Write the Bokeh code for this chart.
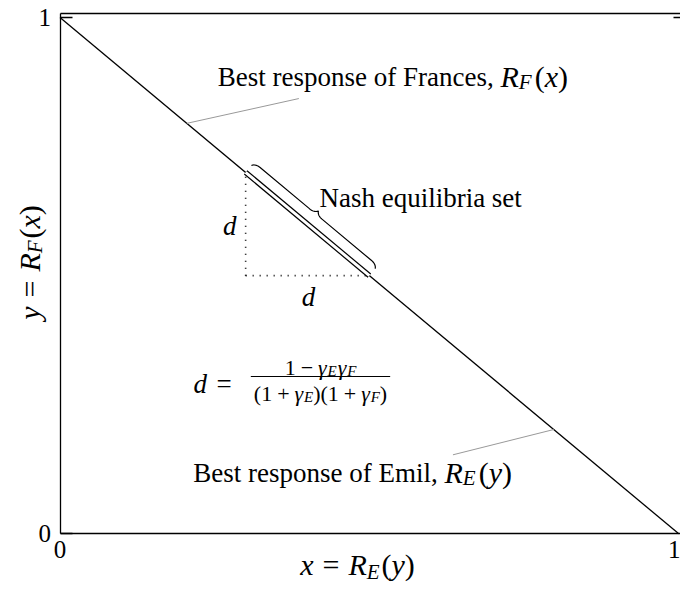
import numpy as np
from bokeh.plotting import figure
from bokeh.models import Label, LinearAxis, FixedTicker, Range1d
from bokeh.embed import file_html
from bokeh.resources import INLINE

# ---------------- data ----------------
best_resp_x = [0.0, 1.0]          # R_F(x) and R_E(y) coincide on this line
best_resp_y = [1.0, 0.0]
nash_x = [0.3, 0.5]               # Nash equilibria set (segment of the line)
nash_y = [0.7, 0.5]
d_corner_x = [0.3]
d_corner_y = [0.5]
d_value = [0.2]
tick_vals = [0, 1]
frances_leader_x = [0.205, 0.386]
frances_leader_y = [0.795, 0.843]
emil_leader_x = [0.798, 0.635]
emil_leader_y = [0.202, 0.153]

# ---------------- layout ----------------
FIG_W, FIG_H = 680, 589
PAGE = 0
X0_PAGE, X1_PAGE = 59.5, 678.3   # page pixel of x=0 / x=1
Y1_PAGE, Y0_PAGE = 17.0, 533.3   # page pixel of y=1 / y=0
SX = X1_PAGE - X0_PAGE
SY = Y0_PAGE - Y1_PAGE
XS = (PAGE - X0_PAGE) / SX
XE = (PAGE + FIG_W - X0_PAGE) / SX
YT = (Y0_PAGE - PAGE) / SY
YS = (Y0_PAGE - (PAGE + FIG_H)) / SY
TOP_BORDER = 1 + 4.5 / SY

def px2x(px):
    return (np.asarray(px, dtype=float) - X0_PAGE) / SX

def px2y(py):
    return (Y0_PAGE - np.asarray(py, dtype=float)) / SY

def x2px(x):
    return X0_PAGE + np.asarray(x, dtype=float) * SX

def y2px(y):
    return Y0_PAGE - np.asarray(y, dtype=float) * SY

FONT = "Liberation Serif"
TXT = 27
MATH = 30
SUB = 21

p = figure(width=FIG_W, height=FIG_H, x_range=Range1d(XS, XE), y_range=Range1d(YS, YT),
           output_backend="svg", toolbar_location=None,
           x_axis_location=None, y_axis_location=None,
           min_border_left=0, min_border_right=0, min_border_top=0, min_border_bottom=0)
p.outline_line_color = None
p.background_fill_color = "white"
p.border_fill_color = "white"
p.grid.visible = False

def mk_axis(ticks, tin, loc, bounds, show_labels=True, line=True, standoff=8):
    ax = LinearAxis(ticker=FixedTicker(ticks=ticks, minor_ticks=[]),
                    fixed_location=loc, bounds=bounds,
                    major_tick_in=tin, major_tick_out=0,
                    major_tick_line_width=1.3, axis_line_width=1.3,
                    minor_tick_line_color=None,
                    major_label_standoff=standoff,
                    major_label_text_font=FONT,
                    major_label_text_font_size="25px" if show_labels else "0px",
                    major_label_text_color="black" if show_labels else None)
    if not line:
        ax.axis_line_color = None
    return ax

p.add_layout(mk_axis(tick_vals, 12, 0, (0, TOP_BORDER), standoff=9), "left")
p.add_layout(mk_axis(tick_vals, 0, 0, (0, XE), standoff=7), "below")
p.add_layout(mk_axis([], 0, TOP_BORDER, (0, XE), show_labels=False, standoff=0), "above")
p.add_layout(mk_axis([tick_vals[1]], 7, XE, (0, TOP_BORDER), show_labels=False, line=False, standoff=0), "right")

# main line
p.line(best_resp_x, best_resp_y, line_color="black", line_width=1.3)

# dotted triangle
cx, cy, d = d_corner_x[0], d_corner_y[0], d_value[0]
p.line([cx, cx], [cy, cy + d], line_color="black", line_width=1.6, line_dash="1 6")
p.line([cx, cx + d], [cy, cy], line_color="black", line_width=1.6, line_dash="1 6")

# Nash set: double line
p.line(nash_x, nash_y, line_color="black", line_width=5.4, line_cap="butt")
p.line(nash_x, nash_y, line_color="white", line_width=3.0, line_cap="butt")

# leader lines
p.line(frances_leader_x, frances_leader_y, line_color="#999999", line_width=1)
p.line(emil_leader_x, emil_leader_y, line_color="#999999", line_width=1)

# brace along the Nash set
def cubic(P0, P1, P2, P3, n=14):
    t = np.linspace(0, 1, n)[:, None]
    P0, P1, P2, P3 = map(np.array, (P0, P1, P2, P3))
    return (1 - t) ** 3 * P0 + 3 * (1 - t) ** 2 * t * P1 + 3 * (1 - t) * t ** 2 * P2 + t ** 3 * P3

x0s, y0s = float(x2px(nash_x[0])), float(y2px(nash_y[0]))
x1s, y1s = float(x2px(nash_x[1])), float(y2px(nash_y[1]))
L = np.hypot(x1s - x0s, y1s - y0s)
u = np.array([(x1s - x0s) / L, (y1s - y0s) / L])
nv = np.array([u[1], -u[0]])
a, rz = 8.0, 9.0
m = L / 2
pts = np.vstack([
    cubic((0, 0), (.15 * a, .3 * a), (.5 * a, .5 * a), (a, .5 * a)),
    cubic((m - a, .5 * a), (m - .5 * a, .5 * a), (m - .15 * a, .7 * a), (m, a)),
    cubic((m, a), (m + .15 * a, .7 * a), (m + .5 * a, .5 * a), (m + a, .5 * a)),
    cubic((L - a, .5 * a), (L - .5 * a, .5 * a), (L - .15 * a, .3 * a), (L, 0)),
])
bx = x0s + pts[:, 0] * u[0] + (pts[:, 1] + rz) * nv[0]
by = y0s + pts[:, 0] * u[1] + (pts[:, 1] + rz) * nv[1]
p.line(px2x(bx), px2y(by), line_color="black", line_width=1.2)
tip_px = (x0s + m * u[0] + (a + rz) * nv[0], y0s + m * u[1] + (a + rz) * nv[1])

# ---------------- text helpers ----------------
W_REG = {'(': .333, ')': .333, '+': .564, '=': .564, '\u2212': .564, '1': .5, ' ': .25}
W_IT = {'R': .611, 'F': .611, 'E': .611, 'x': .444, 'y': .444, 'd': .5, '\u03b3': .43}
MID = 0.3375   # distance baseline -> middle of em box, in em

def tw(s, italic, size):
    tab = W_IT if italic else W_REG
    return sum(tab.get(c, .5) for c in s) * size

def label(px, py, text, size=TXT, italic=False, align="left", angle=0.0, middle=False):
    if middle:
        py = py - MID * size
    p.add_layout(Label(x=float(px2x(px)), y=float(px2y(py)), text=text, angle=angle,
                       text_font=FONT, text_font_size=f"{size}px",
                       text_font_style="italic" if italic else "normal",
                       text_color="black", text_align=align,
                       text_baseline="middle" if middle else "alphabetic"))

def run_width(items):
    return sum(tw(t, it, sz) + g for (t, it, sz, dy, g) in items)

def run(x0, y0, items, center=False, rotated=False, middle=False):
    total = run_width(items)
    adv = -total / 2 if center else 0.0
    for (t, it, sz, dy, g) in items:
        adv += g
        if rotated:
            label(x0 + dy, y0 - adv, t, sz, it, angle=np.pi / 2)
        else:
            label(x0 + adv, y0 + dy, t, sz, it, middle=middle)
        adv += tw(t, it, sz)
    return total

GAM = "\u03b3"

def br(sub, arg):
    return [("R", True, MATH, 0, 0), (sub, True, SUB, 5, 0), ("(", False, MATH, 0, 3),
            (arg, True, MATH, 0, 0), (")", False, MATH, 0, 0)]

# Best response of Frances
label(500, 76, "Best response of Frances, ", align="right")
run(500, 76, br("F", "x"))

# Best response of Emil
label(444, 472, "Best response of Emil, ", align="right")
run(444, 472, br("E", "y"))

# Nash equilibria set
label(tip_px[0] + 1, tip_px[1] - 13, "Nash equilibria set")

# d labels
label(float(x2px(cx)) - 16, float(y2px(cy + d / 2)) + 2, "d", italic=True, align="center")
label(float(x2px(cx + d / 2)) + 1, float(y2px(cy)) + 21, "d", italic=True, align="center")

# formula d = (1 - gE gF) / ((1 + gE)(1 + gF))
bar_y = 376
label(193, bar_y + 7, "d", italic=True)
label(216, bar_y + 7, "=")
FR, FS, G = 22, 15, 5
fcx = 320
num = [("1", False, FR, 0, 0), ("\u2212", False, FR, 0, G), (GAM, True, FR, 0, G),
       ("E", True, FS, 3, 0), (GAM, True, FR, 0, 1), ("F", True, FS, 3, 0)]
den = [("(", False, FR, 0, 0), ("1", False, FR, 0, 0), ("+", False, FR, 0, G),
       (GAM, True, FR, 0, G), ("E", True, FS, 3, 0), (")", False, FR, 0, 0),
       ("(", False, FR, 0, 0), ("1", False, FR, 0, 0), ("+", False, FR, 0, G),
       (GAM, True, FR, 0, G), ("F", True, FS, 3, 0), (")", False, FR, 0, 0)]
run(fcx, bar_y - 9, num, center=True)
wden = run(fcx, bar_y + 17, den, center=True)
p.line(px2x([fcx - wden / 2 - 3, fcx + wden / 2 + 3]), px2y([bar_y, bar_y]),
       line_color="black", line_width=1)

# axis titles
TT, TS = 30, 21
def title_items(v, sub, arg):
    return [(v, True, TT, 0, 0), ("=", False, TT, 0, 9), ("R", True, TT, 0, 9),
            (sub, True, TS, 5, 0), ("(", False, TT, 0, 2), (arg, True, TT, 0, 0),
            (")", False, TT, 0, 0)]
run(357, 574, title_items("x", "E", "y"), center=True, middle=True)
run(29, 262, title_items("y", "F", "x"), center=True, rotated=True)

open("out.html", "w").write(file_html(p, INLINE))
